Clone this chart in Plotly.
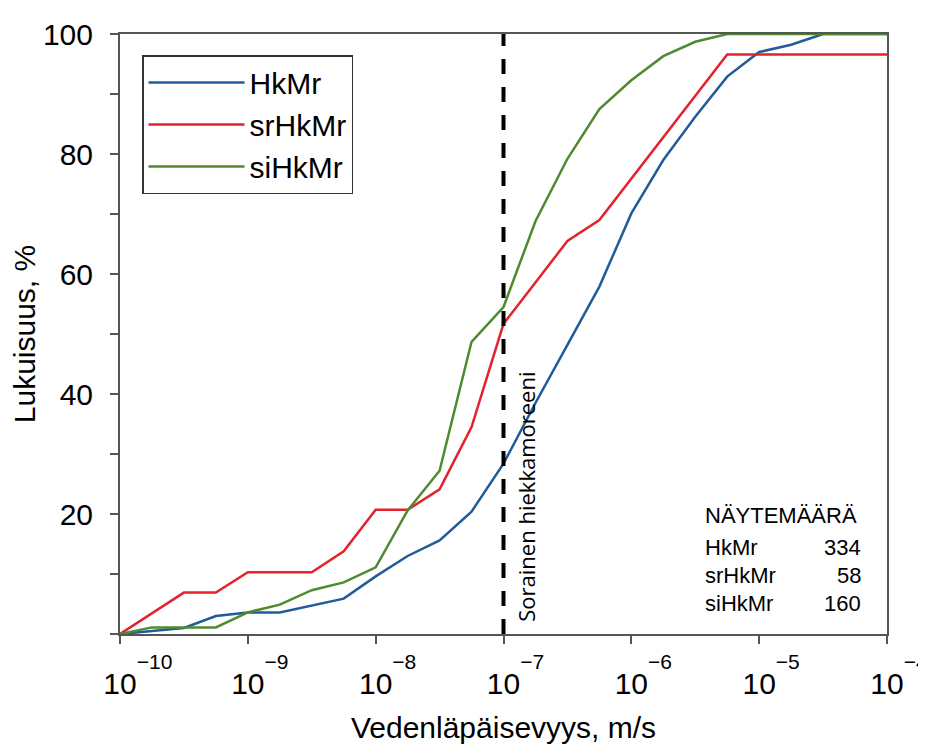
import plotly.graph_objects as go

# log10 of hydraulic conductivity (m/s), quarter-decade steps
log_k = [-10, -9.75, -9.5, -9.25, -9, -8.75, -8.5, -8.25, -8, -7.75, -7.5, -7.25,
         -7, -6.75, -6.5, -6.25, -6, -5.75, -5.5, -5.25, -5, -4.75, -4.5, -4.25, -4]

hkmr = [0, 0.5, 1.0, 3.0, 3.6, 3.6, 4.7, 5.9, 9.6, 13.0, 15.6, 20.4,
        28.4, 38.5, 48.2, 57.9, 70.1, 79.0, 86.2, 92.9, 97.0, 98.2, 100, 100, 100]
srhkmr = [0, 3.4, 6.9, 6.9, 10.3, 10.3, 10.3, 13.8, 20.7, 20.7, 24.1, 34.5,
          51.7, 58.6, 65.5, 69.0, 75.9, 82.8, 89.7, 96.6, 96.6, 96.6, 96.6, 96.6, 96.6]
sihkmr = [0, 1.1, 1.1, 1.1, 3.6, 4.9, 7.3, 8.6, 11.1, 20.6, 27.2, 48.7,
          54.5, 68.8, 79.2, 87.5, 92.3, 96.3, 98.7, 100, 100, 100, 100, 100, 100]

series_names = ["HkMr", "srHkMr", "siHkMr"]
series_colors = ["#1f5c99", "#e3222b", "#4e8a2f"]
sample_counts = ["334", "58", "160"]

x_tick_exp = [-10, -9, -8, -7, -6, -5, -4]
y_tick_vals = [0, 10, 20, 30, 40, 50, 60, 70, 80, 90, 100]
y_tick_text = ["", "", "20", "", "40", "", "60", "", "80", "", "100"]

limit_k = 1e-7
limit_label = "Sorainen hiekkamoreeni"
table_title = "NÄYTEMÄÄRÄ"

x_vals = [10 ** e for e in log_k]

fig = go.Figure()
for name, ys, col in zip(series_names, [hkmr, srhkmr, sihkmr], series_colors):
    fig.add_trace(go.Scatter(x=x_vals, y=ys, mode="lines", name=name,
                             line=dict(color=col, width=2.5)))

# dashed vertical limit line
fig.add_trace(go.Scatter(x=[limit_k, limit_k], y=[0, 100], mode="lines",
                         line=dict(color="black", width=4, dash="15px,13px"),
                         showlegend=False, hoverinfo="skip"))


def sup_part(s, hidden=False):
    col = "color:rgba(0,0,0,0);" if hidden else ""
    return ("<span style='font-size:60px'><sup><span style='font-size:21px;" + col + "'>"
            + s + "</span></sup></span>")


def tick_label(e):
    s = str(e).replace("-", "\u2212")
    return sup_part(s, hidden=True) + "10" + sup_part(s)


font_main = "Liberation Sans, Arial, sans-serif"

fig.update_layout(
    width=918, height=741,
    margin=dict(l=112, r=39, t=26, b=115, autoexpand=False),
    paper_bgcolor="white", plot_bgcolor="white",
    font=dict(family=font_main, color="black"),
    showlegend=True,
    legend=dict(x=0.0287, y=0.965, xanchor="left", yanchor="top",
                bordercolor="#333333", borderwidth=1.5, bgcolor="white",
                font=dict(size=30, family=font_main), itemwidth=96,
                tracegroupgap=0),
    xaxis=dict(type="log", range=[-10, -4], automargin=False,
               tickvals=[10 ** e for e in x_tick_exp],
               ticktext=[tick_label(e) for e in x_tick_exp],
               ticks="outside", ticklen=8, tickwidth=1.5, tickcolor="#555555",
               showline=True, linecolor="#555555", linewidth=2, mirror=True,
               showgrid=False, zeroline=False, ticklabeloverflow="allow",
               ticklabelstandoff=14,
               tickfont=dict(size=30, family=font_main),
               title=dict(text="Vedenläpäisevyys, m/s", font=dict(size=30, family=font_main),
                          standoff=18)),
    yaxis=dict(range=[0, 100], tickvals=y_tick_vals, ticktext=y_tick_text,
               automargin=False,
               ticks="outside", ticklen=8, tickwidth=1.5, tickcolor="#555555",
               showline=True, linecolor="#555555", linewidth=2, mirror=True,
               showgrid=False, zeroline=False, ticklabelstandoff=11,
               tickfont=dict(size=30, family=font_main),
               title=dict(text="Lukuisuus, %", font=dict(size=30, family=font_main),
                          standoff=8)),
)

# rotated label next to the dashed line
fig.add_annotation(x=-7, y=22.8, xref="x", yref="y", text=limit_label,
                   textangle=-90, showarrow=False, xshift=23,
                   font=dict(size=22, family="Open Sans, sans-serif", color="black"))

# sample count table
row_y = [0.197, 0.145, 0.098, 0.051]
fig.add_annotation(x=0.760, y=row_y[0], xref="paper", yref="paper", text=table_title,
                   showarrow=False, xanchor="left", yanchor="middle",
                   font=dict(size=22, family=font_main, color="black"))
for name, cnt, yy in zip(series_names, sample_counts, row_y[1:]):
    fig.add_annotation(x=0.760, y=yy, xref="paper", yref="paper", text=name,
                       showarrow=False, xanchor="left", yanchor="middle",
                       font=dict(size=22, family=font_main, color="black"))
    fig.add_annotation(x=0.969, y=yy, xref="paper", yref="paper", text=cnt,
                       showarrow=False, xanchor="right", yanchor="middle",
                       font=dict(size=22, family=font_main, color="black"))

fig.write_html("out.html")
